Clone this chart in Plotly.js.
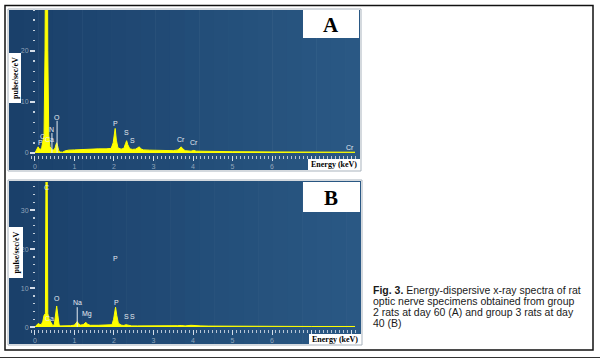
<!DOCTYPE html>
<html>
<head>
<meta charset="utf-8">
<script src="https://cdn.plot.ly/plotly-3.0.1.min.js"></script>
<style>html,body{margin:0;padding:0;background:#fff;}#chart{width:600px;height:359px;}</style>
</head>
<body>
<div id="chart"></div>
<script>
// ---- Spectrum A (group 2, day 60): energy (keV) and counts (pulse/sec/eV)
const energyA = [0.00,0.03,0.06,0.08,0.11,0.14,0.17,0.20,0.23,0.255,0.275,0.29,0.305,0.325,0.35,0.38,0.40,0.44,0.48,0.51,0.53,0.55,0.57,0.60,0.64,0.70,0.76,0.85,1.00,1.20,1.40,1.60,1.80,1.93,1.98,2.01,2.03,2.06,2.10,2.18,2.25,2.29,2.32,2.35,2.40,2.47,2.55,2.60,2.64,2.68,2.75,2.90,3.10,3.30,3.50,3.62,3.67,3.70,3.73,3.80,3.95,4.02,4.08,4.30,5.00,6.00,7.00,8.10];
const countsA = [0.0,0.6,1.0,1.2,0.8,0.7,1.0,2.0,3.5,20,60,75,60,20,3.5,1.2,0.9,0.6,0.6,1.0,1.6,2.0,1.5,0.5,0.2,0.15,0.4,0.55,0.6,0.7,0.75,0.8,0.8,0.9,2.0,4.5,4.8,2.5,1.0,0.75,0.9,1.8,2.4,1.6,0.8,0.7,0.75,1.0,1.2,0.8,0.6,0.55,0.5,0.45,0.45,0.6,1.0,1.2,0.9,0.45,0.35,0.5,0.35,0.3,0.25,0.2,0.2,0.15];

// ---- Spectrum B (group 3, day 40)
const energyB = [0.00,0.04,0.08,0.12,0.16,0.20,0.23,0.265,0.28,0.295,0.31,0.325,0.36,0.41,0.45,0.49,0.52,0.55,0.58,0.61,0.65,0.75,0.90,1.00,1.04,1.07,1.10,1.15,1.22,1.26,1.29,1.33,1.40,1.60,1.80,1.95,1.99,2.02,2.04,2.07,2.11,2.18,2.25,2.30,2.36,2.45,2.60,3.00,3.40,3.60,3.70,3.80,3.95,4.05,4.20,4.40,5.00,6.00,7.00,8.10];
const countsB = [0.0,0.5,0.9,0.7,0.6,1.5,3.0,3.5,40,80,40,3.5,2.0,1.0,0.4,0.6,3.0,5.4,3.0,0.6,0.3,0.3,0.35,0.5,1.0,1.4,0.9,0.5,0.6,1.0,1.2,0.7,0.45,0.45,0.45,0.6,2.0,4.6,5.1,3.0,1.0,0.5,0.4,0.6,0.4,0.3,0.3,0.25,0.25,0.35,0.4,0.3,0.45,0.35,0.3,0.25,0.2,0.2,0.15,0.15];

// ---- Element labels (name, energy, label height)
const elemA = ["P","C","Ca","N","O","P","S","S","Cr","Cr","Cr"];
const elemAx = [0.13,0.19,0.38,0.42,0.55,2.03,2.32,2.47,3.70,4.03,7.97];
const elemAy = [2.0,3.2,2.7,4.6,7.0,5.7,4.0,2.5,2.7,2.0,1.0];
const elemB = ["C","Ca","O","Na","Mg","P","P","S","S"];
const elemBx = [0.29,0.38,0.55,1.07,1.32,2.05,2.07,2.32,2.47];
const elemBy = [35.9,2.3,7.2,6.2,3.3,17.7,6.2,2.6,2.6];

// ---- KLM marker lines (energy, top)
const markAx = [0.43,0.56];
const markAtop = [3.9,6.3];
const markBx = [1.07];
const markBtop = [5.1];

// ---- Axis ticks and texts
const xTickVals = [0,1,2,3,4,5,6,7,8];
const xTickText = ["0","1","2","3","4","5","6","",""];
const panelLetters = ["A","B"];
const xTitle = "Energy (keV)";
const yTitle = "pulse/sec/eV";
const captionLines = [
  "<b>Fig. 3.</b> Energy-dispersive x-ray spectra of rat",
  "optic nerve specimens obtained from group",
  "2 rats at day 60 (A) and group 3 rats at day",
  "40 (B)"
];

const W = 600, H = 359;
const px = v => v / W;
const py = v => 1 - v / H;

const yellow = "#ffff00";
const tickCol = "#d4dde8";
const tickFont = {family: "Liberation Sans, Arial, sans-serif", size: 7, color: "#8fa3b9"};

function xAxis(anchor) {
  return {
    domain: [px(31), px(357)], range: [-0.1, 8.15], anchor: anchor,
    tickmode: "array", tickvals: xTickVals, ticktext: xTickText, ticks: "outside", ticklen: 5, tickwidth: 1,
    tickcolor: tickCol, minor: {dtick: 0.1, tick0: 0, ticks: "outside", ticklen: 3, tickwidth: 1, tickcolor: "#b8c6d6"},
    showgrid: false, zeroline: false, showline: false, tickfont: tickFont, fixedrange: true
  };
}
function yAxis(dom, rng) {
  return {
    domain: dom, range: rng, anchor: "free", position: px(35),
    tickmode: "linear", tick0: 0, dtick: 10, ticks: "outside", ticklen: 5, tickwidth: 1.5,
    tickcolor: tickCol, minor: {dtick: 2, ticks: "outside", ticklen: 2, tickwidth: 1.5, tickcolor: "#c4d0dc"},
    showgrid: false, zeroline: false, showline: false, tickfont: tickFont, fixedrange: true
  };
}

const traces = [
  {x: energyA, y: countsA, type: "scatter", mode: "lines", fill: "tozeroy",
   fillcolor: yellow, line: {color: yellow, width: 1}, xaxis: "x", yaxis: "y", hoverinfo: "skip"},
  {x: energyB, y: countsB, type: "scatter", mode: "lines", fill: "tozeroy",
   fillcolor: yellow, line: {color: yellow, width: 1}, xaxis: "x2", yaxis: "y2", hoverinfo: "skip"}
];

const shapes = [];
// gradient blue panels
function bluePanel(x0, y0, x1, y1) {
  const n = 24;
  const c0 = [26, 64, 106], c1 = [42, 88, 132];
  for (let i = 0; i < n; i++) {
    const t = i / (n - 1);
    const c = c0.map((v, k) => Math.round(v + (c1[k] - v) * t));
    const xa = x0 + (x1 - x0) * i / n, xb = x0 + (x1 - x0) * (i + 1) / n + 0.6;
    shapes.push({type: "rect", xref: "paper", yref: "paper", layer: "below",
      x0: px(xa), x1: px(Math.min(xb, x1)), y0: py(y1), y1: py(y0),
      fillcolor: `rgb(${c[0]},${c[1]},${c[2]})`, line: {width: 0}});
  }
  shapes.push({type: "rect", xref: "paper", yref: "paper", layer: "below",
    x0: px(x0 - 1), x1: px(x1 + 1), y0: py(y1 + 1), y1: py(y0 - 1),
    line: {color: "#a9b3bd", width: 1}, fillcolor: "rgba(0,0,0,0)"});
}
bluePanel(9, 10, 360, 170);
bluePanel(9, 181, 361, 344);

// outer frame
shapes.push({type: "rect", xref: "paper", yref: "paper", x0: px(5), x1: px(593), y0: py(350), y1: py(5.5),
  line: {color: "#111", width: 1.5}, fillcolor: "rgba(0,0,0,0)", layer: "above"});
shapes.push({type: "line", xref: "paper", yref: "paper", x0: 0, x1: 1, y0: py(357.5), y1: py(357.5),
  line: {color: "#333", width: 1}});

// marker lines
markAx.forEach((e, i) => shapes.push({type: "line", xref: "x", yref: "y", x0: e, x1: e, y0: 0, y1: markAtop[i],
  line: {color: "#e6ecf2", width: 1}, layer: "above"}));
markBx.forEach((e, i) => shapes.push({type: "line", xref: "x2", yref: "y2", x0: e, x1: e, y0: 0, y1: markBtop[i],
  line: {color: "#e6ecf2", width: 1}, layer: "above"}));

// white boxes
function whiteBox(x0, y0, x1, y1) {
  shapes.push({type: "rect", xref: "paper", yref: "paper", layer: "above",
    x0: px(x0), x1: px(x1), y0: py(y1), y1: py(y0), fillcolor: "#ffffff", line: {width: 0}});
}
whiteBox(303, 10, 359, 38);
whiteBox(303, 182, 360, 212);
whiteBox(308, 159, 360, 170);
whiteBox(309, 334, 361, 344);
whiteBox(9, 53, 21, 103);
whiteBox(9, 227, 23, 278);

const annotations = [];
const labFont = {family: "Liberation Sans, Arial, sans-serif", size: 7, color: "#e4eaf0"};
elemA.forEach((t, i) => annotations.push({text: t, x: elemAx[i], y: elemAy[i], xref: "x", yref: "y",
  showarrow: false, font: labFont, xanchor: "center", yanchor: "middle"}));
elemB.forEach((t, i) => annotations.push({text: t, x: elemBx[i], y: elemBy[i], xref: "x2", yref: "y2",
  showarrow: false, font: labFont, xanchor: "center", yanchor: "middle"}));

const serifB = {family: "Liberation Serif, Times New Roman, serif", color: "#000"};
const letterPos = [[331, 25], [331, 198]];
panelLetters.forEach((t, i) => annotations.push({text: "<b>" + t + "</b>", xref: "paper", yref: "paper",
  x: px(letterPos[i][0]), y: py(letterPos[i][1]), showarrow: false, xanchor: "center", yanchor: "middle",
  font: Object.assign({}, serifB, {size: 21})}));
[[334, 164.5], [335, 339]].forEach(p => annotations.push({text: "<b>" + xTitle + "</b>", xref: "paper", yref: "paper",
  x: px(p[0]), y: py(p[1]), showarrow: false, xanchor: "center", yanchor: "middle",
  font: Object.assign({}, serifB, {size: 8})}));
[[15, 78], [16, 252.5]].forEach(p => annotations.push({text: "<b>" + yTitle + "</b>", xref: "paper", yref: "paper",
  x: px(p[0]), y: py(p[1]), showarrow: false, xanchor: "center", yanchor: "middle", textangle: -90,
  font: Object.assign({}, serifB, {size: 8})}));

const capY = [289.5, 300.5, 311.5, 322.5];
captionLines.forEach((t, i) => annotations.push({text: t, xref: "paper", yref: "paper",
  x: px(371), y: py(capY[i]), showarrow: false, xanchor: "left", yanchor: "middle",
  font: {family: "Liberation Sans, Arial, sans-serif", size: 10.5, color: "#1a1a1a"}}));

const layout = {
  width: W, height: H, margin: {l: 0, r: 0, t: 0, b: 0},
  paper_bgcolor: "#ffffff", plot_bgcolor: "rgba(0,0,0,0)", showlegend: false,
  xaxis: xAxis("y"), yaxis: yAxis([py(155), py(10)], [-0.4, 28.0]),
  xaxis2: xAxis("y2"), yaxis2: yAxis([py(329), py(182)], [-0.5, 37.2]),
  shapes: shapes, annotations: annotations
};

Plotly.newPlot("chart", traces, layout, {staticPlot: true, displayModeBar: false});
</script>
</body>
</html>
